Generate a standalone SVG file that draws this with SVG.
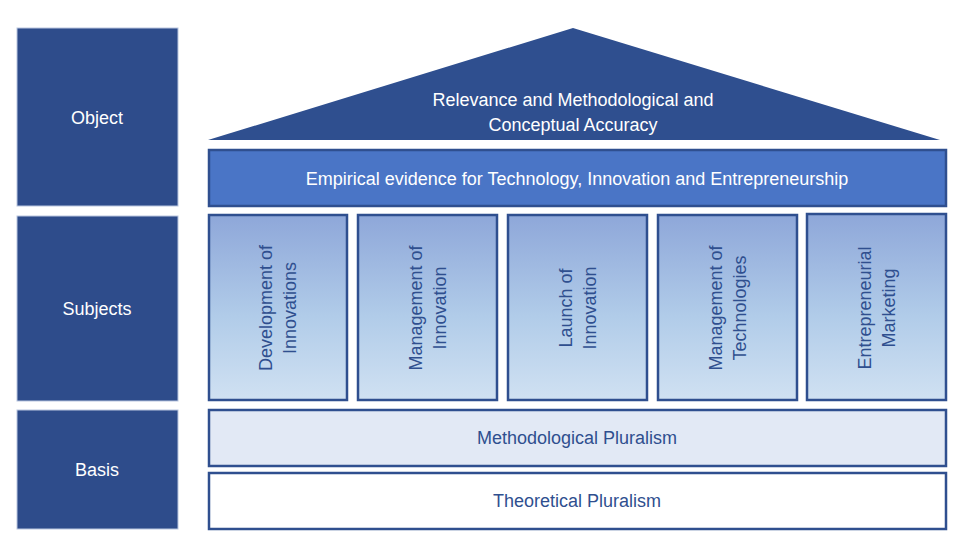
<svg xmlns="http://www.w3.org/2000/svg" width="975" height="552" viewBox="0 0 975 552">
<defs>
<linearGradient id="g" x1="0" y1="0" x2="0" y2="1">
<stop offset="0" stop-color="#8ea7d9"/><stop offset="0.55" stop-color="#b1cce9"/><stop offset="1" stop-color="#d0e1f2"/>
</linearGradient>
<style>
text{font-family:"Liberation Sans",Arial,sans-serif;text-anchor:middle}
.side rect{fill:#2e4c8b;stroke:#b9c6df;stroke-width:1}
.side text{fill:#fff;font-size:18px}
.col rect{fill:url(#g);stroke:#2f4f8f;stroke-width:2.5}
.col text{fill:#2f4f8f;font-size:18px}
.bar{stroke:#2f4f8f;stroke-width:2.5}
</style>
</defs>
<rect width="975" height="552" fill="#fff"/>
<g id="object" class="side"><rect x="17" y="28" width="161" height="178"/><text x="97" y="124">Object</text></g>
<g id="subjects" class="side"><rect x="17" y="216" width="161" height="185"/><text x="97" y="315">Subjects</text></g>
<g id="basis" class="side"><rect x="17" y="410" width="161" height="119"/><text x="97" y="476">Basis</text></g>
<g id="roof"><polygon points="208,140 573,28 940,140" fill="#2f4f8f"/>
<text x="573" y="106" fill="#fff" font-size="18">Relevance and Methodological and</text>
<text x="573" y="131" fill="#fff" font-size="18">Conceptual Accuracy</text></g>
<g id="empirical"><rect class="bar" x="209" y="150" width="737" height="56" fill="#4a75c6"/>
<text x="577" y="185" fill="#fff" font-size="18">Empirical evidence for Technology, Innovation and Entrepreneurship</text></g>
<g id="c1" class="col"><rect x="209" y="215" width="138" height="185"/><text transform="translate(272,308) rotate(-90)">Development of</text><text transform="translate(296,308) rotate(-90)">Innovations</text></g>
<g id="c2" class="col"><rect x="358" y="215" width="139" height="185"/><text transform="translate(422,308) rotate(-90)">Management of</text><text transform="translate(446,308) rotate(-90)">Innovation</text></g>
<g id="c3" class="col"><rect x="508" y="215" width="139" height="185"/><text transform="translate(572,308) rotate(-90)">Launch of</text><text transform="translate(596,308) rotate(-90)">Innovation</text></g>
<g id="c4" class="col"><rect x="658" y="215" width="139" height="185"/><text transform="translate(722,308) rotate(-90)">Management of</text><text transform="translate(746,308) rotate(-90)">Technologies</text></g>
<g id="c5" class="col"><rect x="807" y="214" width="139" height="186"/><text transform="translate(871,308) rotate(-90)">Entrepreneurial</text><text transform="translate(895,308) rotate(-90)">Marketing</text></g>
<g id="method"><rect class="bar" x="209" y="410" width="737" height="56" fill="#e2e9f5"/><text x="577" y="444" fill="#2f4f8f" font-size="18">Methodological Pluralism</text></g>
<g id="theory"><rect class="bar" x="209" y="473" width="737" height="56" fill="#fff"/><text x="577" y="507" fill="#2f4f8f" font-size="18">Theoretical Pluralism</text></g>
<g id="connectors"/>
</svg>
